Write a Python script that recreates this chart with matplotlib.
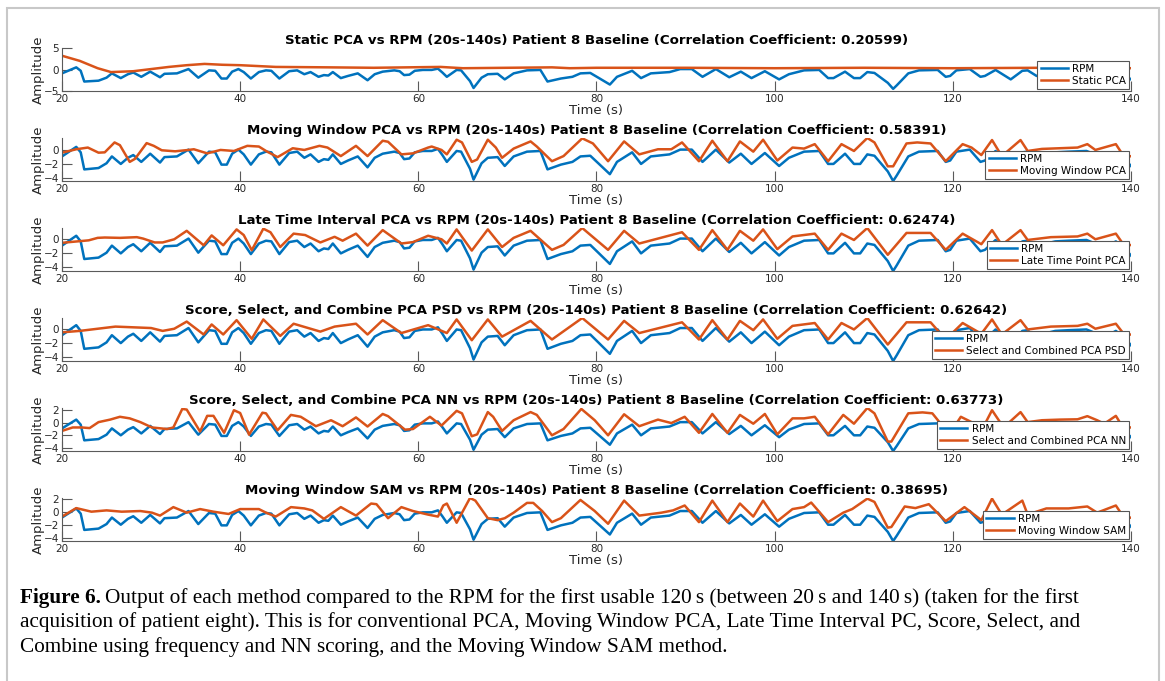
import matplotlib
matplotlib.use("Agg")
import matplotlib.pyplot as plt
from matplotlib.patches import Rectangle
import numpy as np

# RPM reference signal (same in every panel)
rpm_t = [20, 21.6, 22.1, 22.5, 24.1, 25.0, 25.6, 26.6, 27.4, 28.0, 28.9, 29.9, 31.0, 31.5, 32.9,
         34.2, 35.3, 36.5, 37.2, 37.9, 38.5, 39.1, 39.8, 40.4, 41.2, 42.1, 42.9, 43.5, 44.4, 45.5,
         46.4, 47.2, 47.9, 48.8, 49.4, 49.9, 50.4, 51.3, 52.1, 53.2, 54.3, 55.1, 56.0, 57.3, 57.9,
         58.4, 59.0, 59.6, 60.5, 61.5, 62.2, 62.7, 63.2, 64.3, 64.8, 65.8, 66.2, 67.1, 67.8, 68.9,
         69.7, 70.7, 72.2, 73.7, 74.5, 76.0, 77.3, 78.2, 79.3, 80.2, 81.5, 82.3, 84.0, 85.0, 86.1,
         88.2, 89.4, 90.7, 91.9, 93.4, 94.9, 96.2, 97.4, 98.9, 100.5, 101.6, 103.3, 105.0, 106.0,
         106.6, 107.9, 108.9, 109.6, 110.4, 111.2, 112.7, 113.3, 113.7, 115.0, 116.2, 118.3, 119.2,
         119.7, 120.4, 121.9, 123.1, 123.6, 124.8, 126.5, 127.8, 128.4, 129.4, 130.5, 131.5, 133.0,
         135.0, 136.0, 137.0, 138.3, 139.3, 140.0]
rpm_v = [-0.9, 0.5, -0.3, -2.8, -2.6, -1.9, -0.9, -2.0, -1.1, -0.7, -1.7, -0.5, -1.8, -1.0, -0.9,
         0.1, -1.9, -0.2, -0.3, -2.1, -2.1, -0.5, 0.1, -0.6, -2.1, -0.6, -0.2, -0.3, -2.1, -0.4,
         -0.2, -1.1, -0.6, -1.7, -1.3, -1.4, -0.6, -2.0, -1.5, -0.9, -2.5, -1.1, -0.5, -0.2, -0.4,
         -1.3, -1.2, -0.3, -0.1, -0.1, 0.2, -0.7, -1.7, -0.1, -0.2, -2.7, -4.3, -1.9, -1.1, -1.0,
         -2.3, -0.9, -0.2, -0.1, -2.8, -2.1, -1.7, -0.9, -0.8, -1.9, -3.5, -1.7, -0.3, -2.0, -0.9,
         -0.6, 0.1, 0.1, -1.7, 0.1, -1.8, -0.5, -2.0, -0.4, -2.3, -1.1, -0.2, -0.1, -2.0,
         -2.0, -0.5, -2.0, -2.0, -0.6, -0.8, -3.1, -4.5, -3.7, -0.9, -0.2, -0.1, -1.7,
         -1.5, -0.2, 0.1, -1.7, -1.5, -0.1, -2.3, -0.3, -0.2, -1.5, -0.6, -0.3, -0.2,
         -0.1, -0.6, -1.2, -0.3, -1.3, -2.3]

# Static PCA
static_t = [20, 22, 24, 25.5, 28, 30, 32, 34, 36, 38, 40, 44, 50, 55, 62.5, 65, 70, 75, 77, 80,
            90, 100, 110, 120, 130, 140]
static_v = [3.2, 2.0, 0.3, -0.6, -0.4, 0.1, 0.6, 1.0, 1.3, 1.1, 1.0, 0.6, 0.5, 0.4, 0.6, 0.3, 0.4,
            0.5, 0.3, 0.4, 0.4, 0.3, 0.4, 0.3, 0.4, 0.3]

# Moving Window PCA
mw_t = [20, 21.6, 22.9, 24.1, 24.8, 25.9, 26.5, 27.6, 28.2, 29.5, 30.3, 31.2, 32.7, 34.2, 34.8,
        36.3, 37.8, 39.3, 40.8, 42.1, 42.9, 44.2, 45.9, 47.2, 48.9, 49.8, 51.3, 53.0, 54.3, 56.0,
        56.6, 58.1, 59.4, 61.1, 61.5, 62.6, 63.2, 64.3, 64.9, 66.0, 66.6, 67.8, 68.7, 69.4, 70.7,
        72.6, 73.3, 75.0, 76.3, 78.4, 79.6, 81.3, 83.1, 84.8, 86.9, 88.4, 89.6, 91.5, 93.0, 94.7,
        96.1, 97.6, 98.7, 100.3, 102.0, 103.3, 104.5, 106.0, 107.5, 108.9, 110.4, 111.2, 112.7,
        113.3, 114.8, 116.0, 117.5, 119.2, 121.1, 122.1, 123.2, 124.4, 125.5, 127.6, 128.4, 130.0,
        132.0, 134.0, 135.1, 136.0, 138.3, 139.3, 140.0]
mw_v = [-0.35, 0.15, 0.4, -0.35, -0.3, 1.15, 0.75, -1.7, -1.25, 1.05, 0.65, 0.0, -0.15, 0.05, 0.15,
        -0.45, 0.05, -0.1, 0.65, 0.55, -0.1, -1.0, 0.3, 0.05, 0.65, 0.4, -0.85, 0.65, -0.85, 1.4,
        1.25, -0.6, -0.45, 0.4, 0.55, 0.05, -0.6, 1.55, 1.15, -1.7, -1.35, 1.55, 0.4, -1.1, 0.25,
        1.3, 0.55, -1.6, -0.85, 1.75, 1.0, -1.6, 1.3, -0.6, 0.15, 0.15, 1.15, -1.6, 1.4, -1.6,
        1.3, -0.2, 1.55, -1.5, 0.4, 0.25, 0.9, -1.6, 0.9, -0.1, 1.8, 1.15, -2.35,
        -2.35, 1.0, 1.15, 1.0, -1.6, 0.9, 0.4, -0.7, 1.5, -0.85, 1.5, -0.1, 0.2,
        0.3, 0.4, 0.9, 0.05, 0.9, -1.1, -0.85]

# Late Time Point PCA
lt_t = [20, 23, 24, 24.8, 26.5, 28.4, 29.1, 30.4, 31.3, 32.6, 34.0, 35.9, 36.8, 38.1, 39.6, 40.4,
        41.3, 42.6, 43.4, 44.5, 46.0, 47.3, 49.0, 50.6, 51.5, 53.0, 54.3, 56.0, 58.1, 59.4, 61.1,
        62.6, 63.2, 64.3, 66.0, 67.8, 69.4, 70.7, 72.6, 75.0, 76.3, 78.4, 81.3, 83.1, 84.8, 86.9,
        89.6, 91.5, 93.0, 94.7, 96.1, 97.6, 98.7, 100.3, 102.0, 104.5, 106.0, 107.5, 108.9, 110.4,
        112.7, 114.8, 117.5, 119.2, 121.1, 123.2, 124.4, 125.5, 127.6, 128.4, 131.0, 134.0, 135.1,
        136.0, 138.3, 139.3, 140.0]
lt_v = [-0.5, -0.15, 0.2, 0.25, 0.2, 0.3, 0.1, -0.45, -0.45, 0.0, 1.2, -0.85, 0.55, -0.85, 1.4, 0.6,
        -1.55, 1.5, 1.0, -1.1, 0.8, 0.6, -0.45, 0.35, -0.2, 0.8, -0.9, 1.3, -0.6, -0.4, 0.5,
        0.0, -0.6, 1.4, -1.6, 1.4, -1.1, 0.2, 1.2, -1.5, -0.8, 1.6, -1.5, 1.2, -0.6, 0.1,
        1.0, -1.5, 1.3, -1.5, 1.2, -0.2, 1.4, -1.4, 0.4, 0.8, -1.5, 0.8, -0.1, 1.6,
        -2.2, 0.9, 0.9, -1.5, 0.8, -0.7, 1.3, -0.8, 1.3, -0.1, 0.3, 0.4, 0.8,
        0.0, 0.8, -1.0, -0.8]

# Select and Combined PCA PSD
psd_t = [20, 22, 24, 26, 28, 30, 31.3, 32.6, 34.0, 35.9, 36.8, 38.1, 39.6, 41.3, 42.6, 44.5, 46.0,
         49.0, 50.6, 53.0, 54.3, 56.0, 58.1, 61.1, 63.2, 64.3, 66.0, 67.8, 69.4, 72.6, 75.0, 78.4,
         81.3, 83.1, 84.8, 89.6, 91.5, 93.0, 94.7, 96.1, 97.6, 98.7, 100.3, 102.0, 104.5, 106.0,
         107.5, 108.9, 110.4, 112.7, 114.8, 117.5, 119.2, 121.1, 123.2, 124.4, 125.5, 127.6, 128.4,
         131.0, 134.0, 135.1, 136.0, 138.3, 139.3, 140.0]
psd_v = [-0.5, -0.3, 0.0, 0.3, 0.2, 0.1, -0.3, 0.0, 1.0, -0.8, 0.6, -0.8, 1.2, -1.4, 1.3, -1.0, 0.7,
         -0.4, 0.3, 0.7, -0.8, 1.2, -0.6, 0.5, -0.6, 1.3, -1.6, 1.3, -1.1, 1.1, -1.5, 1.5,
         -1.5, 1.1, -0.6, 0.9, -1.5, 1.2, -1.5, 1.1, -0.2, 1.3, -1.4, 0.4, 0.8, -1.5,
         0.8, -0.1, 1.5, -2.2, 0.9, 0.9, -1.5, 0.8, -0.7, 1.3, -0.8, 1.2, -0.1,
         0.3, 0.4, 0.7, 0.0, 0.7, -0.9, -0.8]

# Select and Combined PCA NN
nn_t = [20, 21.2, 22.2, 23.1, 24.1, 25.4, 26.5, 27.6, 28.8, 30.1, 31.8, 32.5, 33.5, 34.0, 35.5,
        36.3, 37.0, 38.2, 39.3, 40.0, 41.0, 42.5, 42.9, 44.2, 45.7, 46.8, 48.5, 50.2, 51.5, 53.0,
        54.3, 56.0, 56.6, 58.5, 59.4, 61.3, 62.6, 64.3, 64.9, 66.0, 66.6, 67.8, 68.4, 69.4, 70.7,
        72.6, 73.3, 75.0, 76.3, 78.3, 79.8, 81.3, 83.1, 84.8, 86.9, 88.4, 89.9, 91.5, 93.0, 94.7,
        96.1, 97.6, 98.9, 100.3, 102.0, 103.3, 104.5, 106.0, 107.7, 108.9, 110.4, 111.2, 112.7,
        113.1, 115.0, 116.6, 117.7, 119.6, 120.9, 122.1, 123.4, 124.4, 125.7, 127.6, 128.4, 130.0,
        132.0, 134.0, 135.1, 136.2, 137.0, 138.3, 139.1, 140.0]
nn_v = [-1.3, -0.75, -0.75, -0.85, 0.1, 0.5, 0.95, 0.7, 0.1, -0.75, -1.0, -0.75, 2.2, 2.1, -1.4,
        1.1, 1.1, -1.6, 2.0, 1.55, -1.9, 1.6, 1.5, -1.2, 1.25, 0.95, -0.55, 0.4, -0.55, 0.85,
        -0.6, 1.4, 1.05, -1.1, -1.0, 0.95, -0.45, 1.9, 1.5, -2.15, -1.85, 1.7, 0.95, -1.3, 0.4,
        1.7, 1.25, -2.0, -1.0, 2.2, 0.4, -2.0, 1.35, -0.55, 0.5, -0.05, 0.95, -1.6, 1.4, -1.6,
        1.25, -0.15, 1.4, -1.85, 0.7, 0.7, 0.95, -1.85, 1.25, -0.15, 2.35, 1.5, -3.0,
        -3.0, 1.5, 1.65, 1.5, -1.85, 0.95, 0.1, -0.75, 2.0, -0.75, 1.7, 0.1, 0.4,
        0.5, 0.55, 1.05, 0.4, -0.15, 1.1, -0.75, -0.75]

# Moving Window SAM
sam_t = [20, 21.6, 23.3, 25.0, 26.7, 28.8, 30.1, 31.0, 32.5, 34.0, 35.5, 37.0, 38.7, 40.0, 42.1,
         42.9, 44.0, 45.7, 47.2, 48.1, 49.4, 51.3, 53.0, 54.7, 55.3, 56.6, 58.1, 59.4, 61.1, 62.2,
         62.8, 63.2, 64.3, 65.8, 66.4, 67.8, 68.9, 69.7, 70.7, 72.2, 72.9, 73.9, 75.0, 76.0, 78.2,
         79.8, 81.3, 83.1, 84.8, 87.3, 88.6, 89.9, 91.5, 93.0, 94.7, 96.1, 97.6, 98.7, 100.3, 102.0,
         103.3, 104.1, 106.0, 107.7, 108.7, 110.4, 111.2, 112.7, 113.1, 114.6, 115.8, 117.3, 119.2,
         121.3, 123.2, 124.4, 125.5, 127.8, 128.4, 130.5, 133.0, 135.1, 136.2, 138.3, 139.3, 140.0]
sam_v = [-0.75, 0.55, 0.0, 0.2, 0.0, 0.1, -0.15, -0.6, 0.7, -0.15, 0.4, 0.0, -0.35, 0.4, 0.4,
         -0.15, -0.75, 0.7, 0.5, 0.2, -1.1, 0.7, -0.6, 1.25, 1.15, -1.0, 0.7, 0.1, -0.45, -0.75,
         0.95, 1.25, -1.7, 2.1, 1.7, -1.0, -1.3, -1.0, -0.15, 1.35, 1.35, 0.1, -1.6, -1.0, 1.8,
         0.1, -1.85, 1.7, -0.6, -0.15, 0.2, 0.95, -1.6, 1.7, -1.6, 1.25, -0.75, 1.7, -1.45, 0.4,
         0.7, 1.4, -1.6, -0.15, 0.4, 2.0, 1.5, -2.45, -2.35, 0.8, 0.55, 1.15, -1.45,
         0.7, -1.3, 2.0, -0.45, 1.7, -0.45, 0.5, 0.5, 0.8, -0.15, 0.95, -1.1, -0.9]

titles = [
    "Static PCA vs RPM (20s-140s) Patient 8 Baseline (Correlation Coefficient: 0.20599)",
    "Moving Window PCA vs RPM (20s-140s) Patient 8 Baseline (Correlation Coefficient: 0.58391)",
    "Late Time Interval PCA vs RPM (20s-140s) Patient 8 Baseline (Correlation Coefficient: 0.62474)",
    "Score, Select, and Combine PCA PSD vs RPM (20s-140s) Patient 8 Baseline (Correlation Coefficient: 0.62642)",
    "Score, Select, and Combine PCA NN vs RPM (20s-140s) Patient 8 Baseline (Correlation Coefficient: 0.63773)",
    "Moving Window SAM vs RPM (20s-140s) Patient 8 Baseline (Correlation Coefficient: 0.38695)",
]
method_labels = ["Static PCA", "Moving Window PCA", "Late Time Point PCA",
                 "Select and Combined PCA PSD", "Select and Combined PCA NN", "Moving Window SAM"]
methods = [(static_t, static_v), (mw_t, mw_v), (lt_t, lt_v),
           (psd_t, psd_v), (nn_t, nn_v), (sam_t, sam_v)]

BLUE = '#0072BD'
ORANGE = '#D95319'
AX_COL = '#5a5a5a'

W, H = 1165, 681
fig = plt.figure(figsize=(W / 100, H / 100), dpi=100)
fig.patch.set_facecolor('white')

# рамка вокруг рисунка
fig.patches.append(Rectangle((7 / W, -0.01), (1159 - 7) / W, 1.01 - 8 / H, transform=fig.transFigure,
                             fill=False, edgecolor='#c8c8c8', linewidth=1.5))

left, right = 62, 1131
tops = [48, 138, 228, 318, 408, 498]
ax_h = 43

for i, (top, (mt, mv)) in enumerate(zip(tops, methods)):
    ax = fig.add_axes([left / W, 1 - (top + ax_h) / H, (right - left) / W, ax_h / H])
    ax.plot(rpm_t, rpm_v, color=BLUE, lw=1.8, label='RPM')
    ax.plot(mt, mv, color=ORANGE, lw=1.8, label=method_labels[i])
    ax.set_xlim(20, 140)
    if i == 0:
        ax.set_ylim(-5, 5)
        ax.set_yticks([-5, 0, 5])
    else:
        lo = min(np.min(rpm_v), np.min(mv))
        hi = max(np.max(rpm_v), np.max(mv))
        ax.set_ylim(lo, hi)
        ax.set_yticks([t for t in [-4, -2, 0, 2] if lo <= t <= hi])
    ax.set_xticks(range(20, 141, 20))
    for s in ['top', 'right']:
        ax.spines[s].set_visible(False)
    for s in ['left', 'bottom']:
        ax.spines[s].set_color(AX_COL)
        ax.spines[s].set_linewidth(0.8)
    ax.tick_params(direction='in', length=7, width=0.8, color=AX_COL, labelsize=7.5,
                   labelcolor='#262626', pad=2)
    ax.set_title(titles[i], fontsize=9.6, fontweight='bold', pad=3)
    ax.set_xlabel('Time (s)', fontsize=9.5, labelpad=0, color='#262626')
    ax.set_ylabel('Amplitude', fontsize=9.5, labelpad=-1, color='#262626')
    leg = ax.legend(loc='lower right', fontsize=7.5, fancybox=False, framealpha=1,
                    edgecolor='#555555', borderaxespad=0.2, handlelength=2.6,
                    borderpad=0.3, labelspacing=0.2, handletextpad=0.4)
    leg.get_frame().set_linewidth(0.8)

# подпись к рисунку
cap_fam = ['Liberation Serif', 'DejaVu Serif']
cap_fs = 15.3
x0 = 20 / W
t1 = fig.text(x0, 1 - 598 / H, 'Figure 6.', fontsize=cap_fs, fontweight='bold',
              family=cap_fam, va='center')
fig.canvas.draw()
bb = t1.get_window_extent(fig.canvas.get_renderer())
fig.text(bb.x1 / W + 4 / W, 1 - 598 / H,
         'Output of each method compared to the RPM for the first usable 120\u2009s (between 20\u2009s and 140\u2009s) (taken for the first',
         fontsize=cap_fs, family=cap_fam, va='center')
fig.text(x0, 1 - 622 / H,
         'acquisition of patient eight). This is for conventional PCA, Moving Window PCA, Late Time Interval PC, Score, Select, and',
         fontsize=cap_fs, family=cap_fam, va='center')
fig.text(x0, 1 - 647 / H,
         'Combine using frequency and NN scoring, and the Moving Window SAM method.',
         fontsize=cap_fs, family=cap_fam, va='center')

fig.savefig('out.png', dpi=100)
